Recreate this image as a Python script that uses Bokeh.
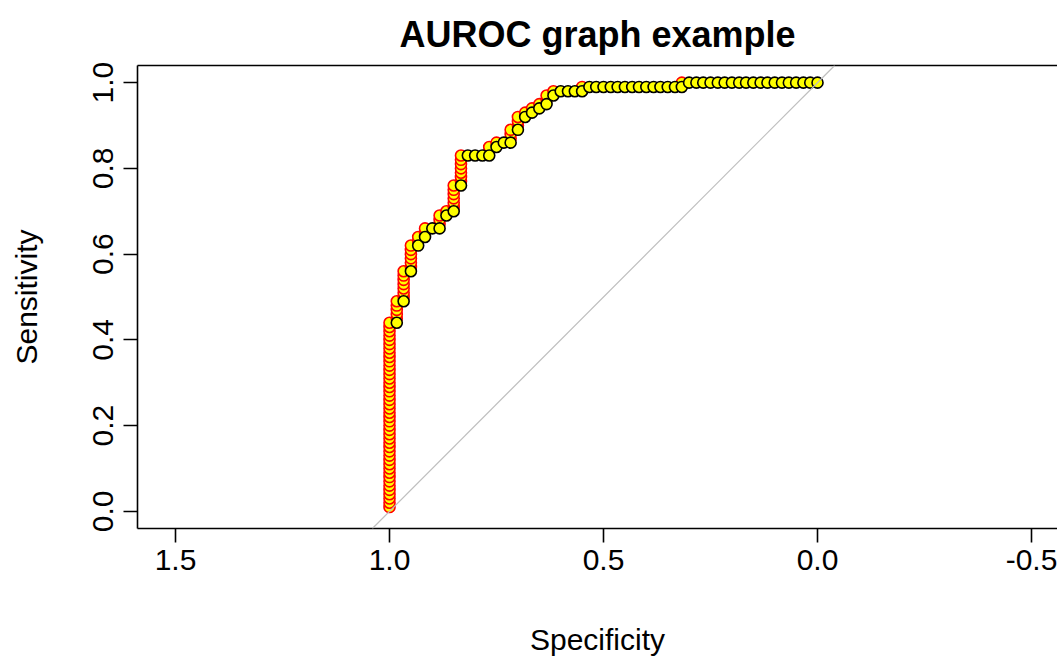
from bokeh.plotting import figure
from bokeh.models import Range1d, FixedTicker, LinearAxis, Slope
from bokeh.embed import file_html
from bokeh.resources import INLINE

title_text = "AUROC graph example"
x_label = "Specificity"
y_label = "Sensitivity"
x_ticks = [1.5, 1.0, 0.5, 0.0, -0.5]
x_tick_labels = ["1.5", "1.0", "0.5", "0.0", "-0.5"]
y_ticks = [0.0, 0.2, 0.4, 0.6, 0.8, 1.0]
y_tick_labels = ["0.0", "0.2", "0.4", "0.6", "0.8", "1.0"]

# ROC curve points (specificity, sensitivity)
specificity = [
    1.000, 1.000, 1.000, 1.000, 1.000, 1.000, 1.000, 1.000, 1.000, 1.000,
    1.000, 1.000, 1.000, 1.000, 1.000, 1.000, 1.000, 1.000, 1.000, 1.000,
    1.000, 1.000, 1.000, 1.000, 1.000, 1.000, 1.000, 1.000, 1.000, 1.000,
    1.000, 1.000, 1.000, 1.000, 1.000, 1.000, 1.000, 1.000, 1.000, 1.000,
    1.000, 1.000, 1.000, 1.000,
    0.983, 0.983, 0.983, 0.983, 0.983, 0.983,
    0.967, 0.967, 0.967, 0.967, 0.967, 0.967, 0.967, 0.967,
    0.950, 0.950, 0.950, 0.950, 0.950, 0.950, 0.950,
    0.933, 0.933, 0.933, 0.917, 0.917, 0.917, 0.900,
    0.883, 0.883, 0.883, 0.883, 0.867, 0.867,
    0.850, 0.850, 0.850, 0.850, 0.850, 0.850, 0.850,
    0.833, 0.833, 0.833, 0.833, 0.833, 0.833, 0.833, 0.833,
    0.817, 0.800, 0.783,
    0.767, 0.767, 0.767, 0.750, 0.750, 0.733,
    0.717, 0.717, 0.717, 0.717, 0.700, 0.700, 0.700, 0.700,
    0.683, 0.683, 0.667, 0.667, 0.650, 0.650, 0.633, 0.633, 0.633,
    0.617, 0.617, 0.600, 0.583, 0.567, 0.550,
    0.550, 0.533, 0.517, 0.500, 0.483, 0.467, 0.450, 0.433, 0.417, 0.400,
    0.383, 0.367, 0.350, 0.333, 0.317,
    0.317, 0.300, 0.283, 0.267, 0.250, 0.233, 0.217, 0.200, 0.183, 0.167,
    0.150, 0.133, 0.117, 0.100, 0.083, 0.067, 0.050, 0.033, 0.017, 0.000,
]
sensitivity = [
    0.01, 0.02, 0.03, 0.04, 0.05, 0.06, 0.07, 0.08, 0.09, 0.10,
    0.11, 0.12, 0.13, 0.14, 0.15, 0.16, 0.17, 0.18, 0.19, 0.20,
    0.21, 0.22, 0.23, 0.24, 0.25, 0.26, 0.27, 0.28, 0.29, 0.30,
    0.31, 0.32, 0.33, 0.34, 0.35, 0.36, 0.37, 0.38, 0.39, 0.40,
    0.41, 0.42, 0.43, 0.44,
    0.44, 0.45, 0.46, 0.47, 0.48, 0.49,
    0.49, 0.50, 0.51, 0.52, 0.53, 0.54, 0.55, 0.56,
    0.56, 0.57, 0.58, 0.59, 0.60, 0.61, 0.62,
    0.62, 0.63, 0.64, 0.64, 0.65, 0.66, 0.66,
    0.66, 0.67, 0.68, 0.69, 0.69, 0.70,
    0.70, 0.71, 0.72, 0.73, 0.74, 0.75, 0.76,
    0.76, 0.77, 0.78, 0.79, 0.80, 0.81, 0.82, 0.83,
    0.83, 0.83, 0.83,
    0.83, 0.84, 0.85, 0.85, 0.86, 0.86,
    0.86, 0.87, 0.88, 0.89, 0.89, 0.90, 0.91, 0.92,
    0.92, 0.93, 0.93, 0.94, 0.94, 0.95, 0.95, 0.96, 0.97,
    0.97, 0.98, 0.98, 0.98, 0.98, 0.98,
    0.99, 0.99, 0.99, 0.99, 0.99, 0.99, 0.99, 0.99, 0.99, 0.99,
    0.99, 0.99, 0.99, 0.99, 0.99,
    1.00, 1.00, 1.00, 1.00, 1.00, 1.00, 1.00, 1.00, 1.00, 1.00,
    1.00, 1.00, 1.00, 1.00, 1.00, 1.00, 1.00, 1.00, 1.00, 1.00,
]

# points on a vertical step (sensitivity rises at the same specificity) are outlined red
red_x, red_y, blk_x, blk_y = [], [], [], []
for i, (sx, sy) in enumerate(zip(specificity, sensitivity)):
    if i == 0 or sx == specificity[i - 1]:
        red_x.append(sx); red_y.append(sy)
    else:
        blk_x.append(sx); blk_y.append(sy)

FONT = "Liberation Sans"

p = figure(
    width=1057, height=660,
    x_range=Range1d(1.5888, -0.5607), y_range=Range1d(-0.04, 1.04),
    output_backend="svg", toolbar_location=None,
    min_border_left=137, min_border_right=0, min_border_top=65, min_border_bottom=132,
    title=title_text,
)
p.outline_line_color = None
p.grid.visible = False
p.background_fill_color = "white"
p.border_fill_color = "white"

p.title.align = "center"
p.title.text_font = FONT
p.title.text_font_size = "36px"
p.title.text_font_style = "bold"
p.title.text_color = "black"
p.title.standoff = 22

xa = p.xaxis[0]
xa.ticker = FixedTicker(ticks=x_ticks)
xa.major_label_overrides = {t: l for t, l in zip(x_ticks, x_tick_labels)}
ya = p.yaxis[0]
ya.ticker = FixedTicker(ticks=y_ticks)
ya.major_label_overrides = {t: l for t, l in zip(y_ticks, y_tick_labels)}
ya.major_label_orientation = "vertical"

for ax, lab in ((xa, x_label), (ya, y_label)):
    ax.axis_label = lab
    ax.axis_label_text_font = FONT
    ax.axis_label_text_font_size = "30px"
    ax.axis_label_text_font_style = "normal"
    ax.axis_label_text_color = "black"
    ax.major_label_text_font = FONT
    ax.major_label_text_font_size = "30px"
    ax.major_label_text_color = "black"
    ax.axis_line_color = "black"
    ax.axis_line_width = 1.6
    ax.major_tick_line_color = "black"
    ax.major_tick_line_width = 1.6
    ax.major_tick_in = 0
    ax.major_tick_out = 14
    ax.minor_tick_line_color = None

xa.major_label_standoff = 7
xa.axis_label_standoff = 50
ya.major_label_standoff = 10
ya.axis_label_standoff = 48

top = LinearAxis(ticker=FixedTicker(ticks=[]), major_label_text_font_size="0px",
                 major_tick_line_color=None, minor_tick_line_color=None,
                 axis_line_color="black", axis_line_width=1.6,
                 major_tick_out=0, major_label_standoff=0)
p.add_layout(top, "above")

p.add_layout(Slope(gradient=-1, y_intercept=1, line_color="#BEBEBE", line_width=1.2))

p.scatter(x=red_x, y=red_y, size=11, marker="circle", fill_color="yellow",
          line_color="red", line_width=1.6)
p.scatter(x=blk_x, y=blk_y, size=11, marker="circle", fill_color="yellow",
          line_color="black", line_width=1.6)

open("out.html", "w").write(file_html(p, INLINE))
